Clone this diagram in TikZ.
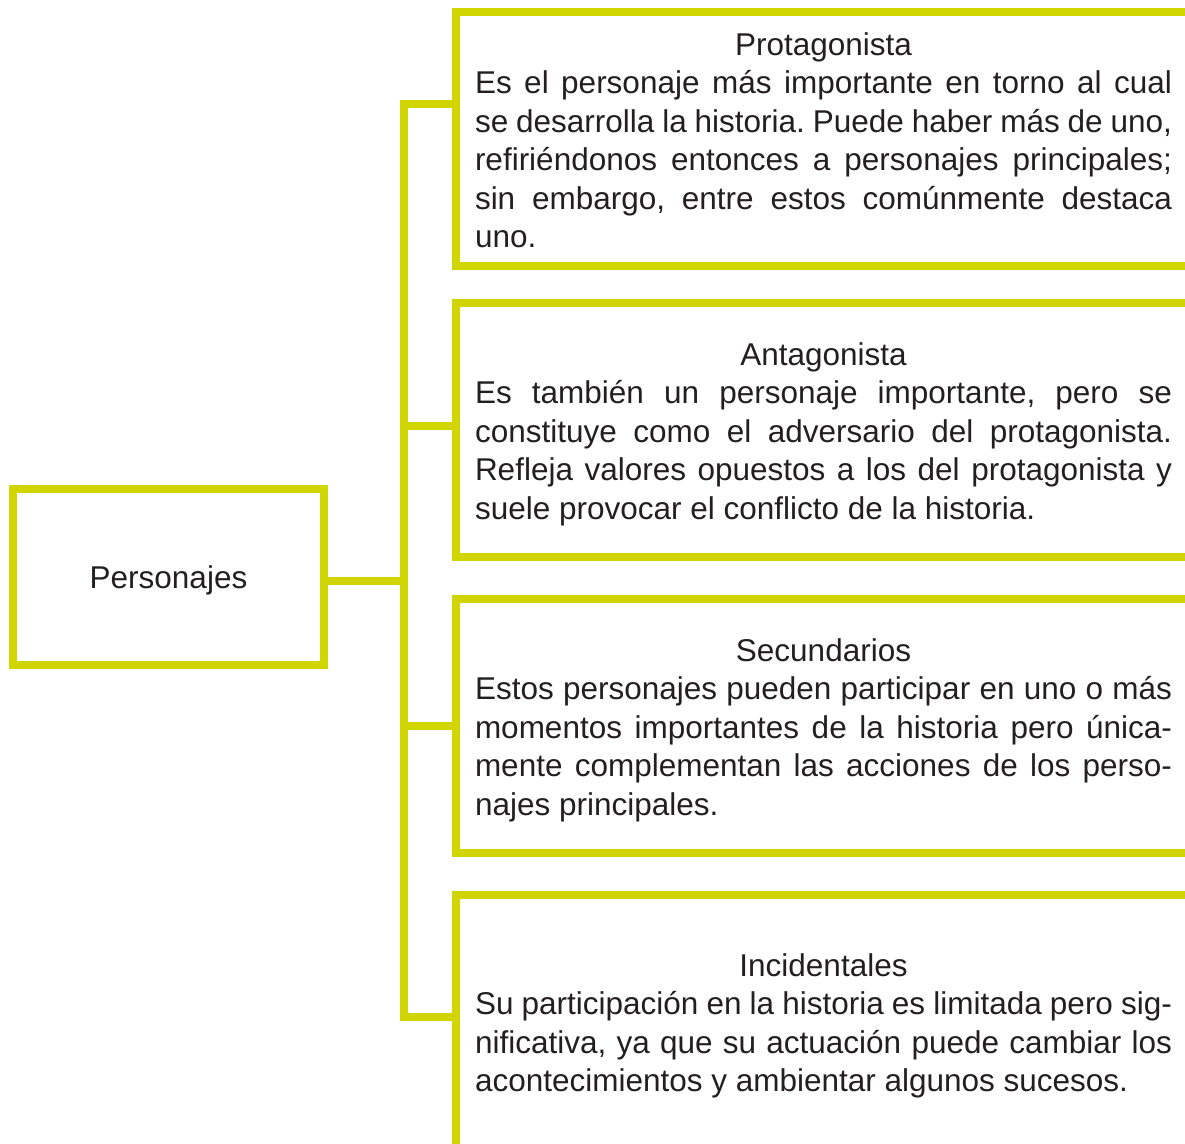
\documentclass[tikz,border=0pt]{standalone}
\usepackage{fontspec}
\setmainfont{Liberation Sans}
\usepackage{tikz}
\definecolor{lima}{RGB}{210,214,0}
\definecolor{tinta}{RGB}{35,31,32}
\setlength{\parindent}{0pt}
\frenchspacing

% title line of a box, with a little room above it
\newcommand{\titulo}[2][31pt]{\makebox[\linewidth]{\rule{0pt}{#1}#2}\par}

\begin{document}
\begin{tikzpicture}[
            x = 1pt, y = -1pt, % one unit per pixel, y downwards
            line width = 8pt, % thick yellow lines
            line join = miter,
            every node/.style = {text = tinta, font = \fontsize{31.5}{38.5}\selectfont}
        ]

        \tikzstyle{tipo}=[
            draw = lima,
            anchor = north west,
            outer sep = 0pt,
            text width = 697pt,
            inner xsep = 19pt,
            inner ysep = 0pt,
            minimum height = 254pt,
            align = justify
        ]
        \tikzstyle{raiz}=[
            draw = lima,
            minimum width = 311pt,
            minimum height = 176pt,
            text height = 22pt,
            text depth = 0pt
        ]

        \useasboundingbox (0,0) rectangle (1185,1143);
        \clip (0,0) rectangle (1185,1143);

        \node[raiz] (pers) at (168.5,577) {Personajes};

        \node[tipo] (prot) at (456,12) {\titulo[25pt]{Protagonista}
            Es el personaje más importante en torno al cual\linebreak
            se desarrolla la historia. Puede haber más de uno,\linebreak
            refiriéndonos entonces a personajes principales;\linebreak
            sin embargo, entre estos comúnmente destaca\linebreak
            uno.};
        \node[tipo] (anta) at (456,303) {\titulo{Antagonista}
            Es también un personaje importante, pero se\linebreak
            constituye como el adversario del protagonista.\linebreak
            Refleja valores opuestos a los del protagonista y\linebreak
            suele provocar el conflicto de la historia.};
        \node[tipo] (secu) at (456,599) {\titulo{Secundarios}
            Estos personajes pueden participar en uno o más\linebreak
            momentos importantes de la historia pero única-\linebreak
            mente complementan las acciones de los perso-\linebreak
            najes principales.};
        \node[tipo] (inci) at (456,895) {\titulo{Incidentales}
            Su participación en la historia es limitada pero sig-\linebreak
            nificativa, ya que su actuación puede cambiar los\linebreak
            acontecimientos y ambientar algunos sucesos.};

        \coordinate (j1) at (404,104);
        \coordinate (j2) at (404,425.5);
        \coordinate (j0) at (404,581);
        \coordinate (j3) at (404,725.5);
        \coordinate (j4) at (404,1017);

        \draw[lima] (j1 -| prot.west) -- (j1) -- (j4) -- (j4 -| inci.west);
        \draw[lima] (j2) -- (j2 -| anta.west);
        \draw[lima] (j3) -- (j3 -| secu.west);
        \draw[lima] (pers.east |- j0) -- (j0);

  \end{tikzpicture}
\end{document}
